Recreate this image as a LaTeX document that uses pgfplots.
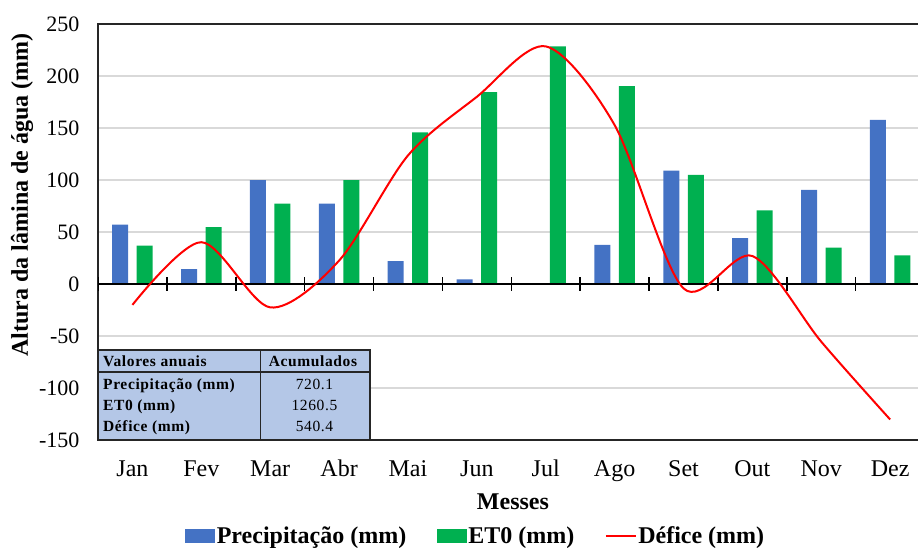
\documentclass[border=0pt]{standalone}
\usepackage{pgfplots}
\usepackage{pgfplotstable}
\pgfplotsset{compat=1.18}
\usepackage{fontspec}
\setmainfont{Liberation Serif}

\definecolor{precip}{HTML}{4472C4}
\definecolor{etzero}{HTML}{00B050}
\definecolor{gridgray}{HTML}{D9D9D9}
\definecolor{tablefill}{HTML}{B4C7E7}
\definecolor{frame}{HTML}{262626}

% Monthly water balance (mm): precipitation, reference evapotranspiration, deficit
\pgfplotstableread{
mes P     ET0    D
0   57.0  36.9   -20.1
1   14.4  54.6    40.2
2   99.8  77.3   -22.5
3   77.3  99.8    22.5
4   22.1  145.7  123.6
5   4.5   184.5  180.0
6   0.0   228.5  228.5
7   37.5  190.3  152.8
8   109.1 104.9   -4.2
9   44.0  70.9    26.9
10  90.5  35.0   -55.5
11  157.9 27.6  -130.3
}\dados

\newcommand\tabfont{\fontsize{15.5}{18}\selectfont\addfontfeature{LetterSpace=4}}

\begin{document}
\begin{tikzpicture}
\begin{axis}[
  at={(98pt,108pt)}, anchor=south west,
  scale only axis, width=826.6pt, height=416pt,
  xmin=-0.5, xmax=11.5, ymin=-150, ymax=250,
  xtick={0,...,11},
  xticklabels={Jan,Fev,Mar,Abr,Mai,Jun,Jul,Ago,Set,Out,Nov,Dez},
  ytick={-150,-100,...,250},
  major tick length=0pt,
  xtick style={draw=none}, ytick style={draw=none},
  ymajorgrids, major grid style={gridgray, line width=1.5pt},
  axis line style={frame, line width=1.5pt},
  /pgf/number format/assume math mode=true,
  yticklabel style={font=\fontsize{22}{26}\selectfont, anchor=east, xshift=-15pt},
  xticklabel style={font=\fontsize{24}{28}\selectfont, anchor=base, yshift=-37pt},
  xlabel={Messes},
  ylabel={Altura da lâmina de água (mm)},
  label style={font=\fontsize{24}{28}\selectfont\bfseries},
  xlabel style={at={(axis description cs:0.502,-0.148)}, anchor=center},
  ylabel style={at={(axis description cs:-0.0919,0.589)}, anchor=center},
  legend columns=3,
  legend style={draw=none, fill=none,
    font=\fontsize{24}{28}\selectfont\bfseries,
    at={(axis description cs:0.4567,-0.2294)}, anchor=center,
    nodes={inner xsep=1.5pt, inner ysep=0pt},
    /tikz/every even column/.append style={column sep=29pt}},
]
\addplot[ybar, bar width=16pt, bar shift=-12.25pt, fill=precip, draw=none,
  legend image code/.code={\fill[precip] (0pt,-8pt) rectangle (30pt,6pt);}]
  table[x=mes, y=P] {\dados};
\addlegendentry{Precipitação (mm)}
\addplot[ybar, bar width=16pt, bar shift=12.25pt, fill=etzero, draw=none,
  legend image code/.code={\fill[etzero] (0pt,-8pt) rectangle (30pt,6pt);}]
  table[x=mes, y=ET0] {\dados};
\addlegendentry{ET0 (mm)}

% zero line with category separators
\draw[black, line width=2.5pt] (axis cs:-0.5,0) -- (axis cs:11.5,0);
\pgfplotsinvokeforeach{-0.5,0.5,...,11.5}{
  \draw[black, line width=1.5pt] ([yshift=-7pt]axis cs:#1,0) -- ([yshift=7pt]axis cs:#1,0);
}

\addplot[red, line width=2pt, smooth, mark=none,
  legend image code/.code={\draw[red, line width=2pt] (0pt,-1pt) -- (30pt,-1pt);}]
  table[x=mes, y=D] {\dados};
\addlegendentry{Défice (mm)}
\end{axis}

% annual totals box
\fill[tablefill] (98pt,108pt) rectangle (370pt,198pt);
\draw[frame, line width=1.5pt] (98pt,108pt) rectangle (370pt,198pt);
\draw[frame, line width=1.5pt] (98pt,176pt) -- (370pt,176pt);
\draw[frame, line width=1.5pt] (260.7pt,108pt) -- (260.7pt,198pt);
\begin{scope}[every node/.style={inner sep=0pt, font=\tabfont}]
  \node[anchor=base west] at (103pt,181.3pt) {\bfseries Valores anuais};
  \node[anchor=base] at (313pt,181.3pt) {\bfseries Acumulados};
  \node[anchor=base west] at (103pt,158pt) {\bfseries Precipitação (mm)};
  \node[anchor=base] at (314.5pt,158pt) {720.1};
  \node[anchor=base west] at (103pt,137pt) {\bfseries ET0 (mm)};
  \node[anchor=base] at (314.5pt,137pt) {1260.5};
  \node[anchor=base west] at (103pt,116.3pt) {\bfseries Défice (mm)};
  \node[anchor=base] at (314.5pt,116.3pt) {540.4};
\end{scope}

\pgfresetboundingbox
\path[use as bounding box] (0pt,0pt) rectangle (918pt,548pt);
\end{tikzpicture}
\end{document}
